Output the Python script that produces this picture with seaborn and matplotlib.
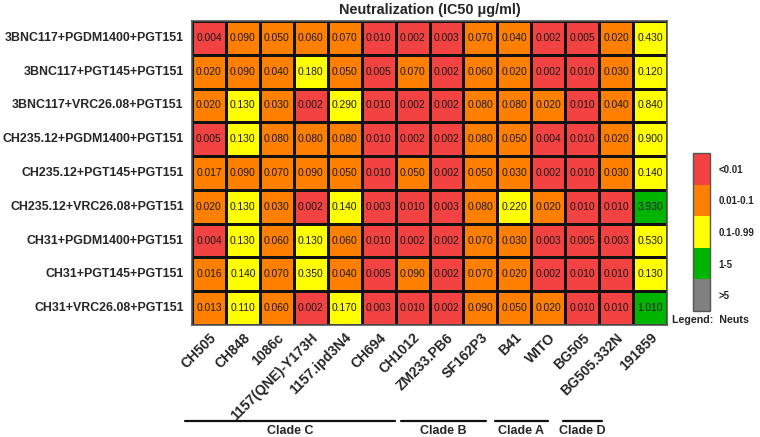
import numpy as np
import pandas as pd
import matplotlib
matplotlib.use("Agg")
import matplotlib.pyplot as plt
from matplotlib.colors import ListedColormap
import seaborn as sns

combos = ["3BNC117+PGDM1400+PGT151", "3BNC117+PGT145+PGT151", "3BNC117+VRC26.08+PGT151",
          "CH235.12+PGDM1400+PGT151", "CH235.12+PGT145+PGT151", "CH235.12+VRC26.08+PGT151",
          "CH31+PGDM1400+PGT151", "CH31+PGT145+PGT151", "CH31+VRC26.08+PGT151"]
viruses = ["CH505", "CH848", "1086c", "1157(QNE)-Y173H", "1157.ipd3N4", "CH694", "CH1012",
           "ZM233.PB6", "SF162P3", "B41", "WITO", "BG505", "BG505.332N", "191859"]

row1 = [0.004, 0.090, 0.050, 0.060, 0.070, 0.010, 0.002, 0.003, 0.070, 0.040, 0.002, 0.005, 0.020, 0.430]
row2 = [0.020, 0.090, 0.040, 0.180, 0.050, 0.005, 0.070, 0.002, 0.060, 0.020, 0.002, 0.010, 0.030, 0.120]
row3 = [0.020, 0.130, 0.030, 0.002, 0.290, 0.010, 0.002, 0.002, 0.080, 0.080, 0.020, 0.010, 0.040, 0.840]
row4 = [0.005, 0.130, 0.080, 0.080, 0.080, 0.010, 0.002, 0.002, 0.080, 0.050, 0.004, 0.010, 0.020, 0.900]
row5 = [0.017, 0.090, 0.070, 0.090, 0.050, 0.010, 0.050, 0.002, 0.050, 0.030, 0.002, 0.010, 0.030, 0.140]
row6 = [0.020, 0.130, 0.030, 0.002, 0.140, 0.003, 0.010, 0.003, 0.080, 0.220, 0.020, 0.010, 0.010, 3.930]
row7 = [0.004, 0.130, 0.060, 0.130, 0.060, 0.010, 0.002, 0.002, 0.070, 0.030, 0.003, 0.005, 0.003, 0.530]
row8 = [0.016, 0.140, 0.070, 0.350, 0.040, 0.005, 0.090, 0.002, 0.070, 0.020, 0.002, 0.010, 0.010, 0.130]
row9 = [0.013, 0.110, 0.060, 0.002, 0.170, 0.003, 0.010, 0.002, 0.090, 0.050, 0.020, 0.010, 0.010, 1.010]

legend_labels = ["<0.01", "0.01-0.1", "0.1-0.99", "1-5", ">5"]
bin_edges = [0.0105, 0.1005, 1.0, 5.0]
bin_colors = ["#F24242", "#FF8000", "#FFFF00", "#00B400", "#808080"]

clades = ["Clade C", "Clade B", "Clade A", "Clade D"]

values = np.array([row1, row2, row3, row4, row5, row6, row7, row8, row9])
df = pd.DataFrame(values, index=combos, columns=viruses)
cats = pd.DataFrame(np.digitize(values, bin_edges, right=False), index=combos, columns=viruses)
annot = df.map(lambda v: f"{v:.3f}")

sns.set_theme(style="white")
plt.rcParams["font.family"] = ["Liberation Sans", "DejaVu Sans"]

W, H = 760, 437
fig = plt.figure(figsize=(W / 100, H / 100), dpi=100)
ax = fig.add_axes([192 / W, 1 - 325 / H, 475 / W, 304 / H])
cax = fig.add_axes([693 / W, 1 - 311 / H, 17 / W, 158 / H])

cmap = ListedColormap(bin_colors)
sns.heatmap(cats, ax=ax, cmap=cmap, vmin=-0.5, vmax=4.5, annot=annot, fmt="",
            annot_kws={"fontsize": 7.4, "color": "#1a1a1a"},
            linewidths=1, linecolor="#111111", cbar=True, cbar_ax=cax)

for s in ax.spines.values():
    s.set_visible(True)
    s.set_color("#555555")
    s.set_linewidth(1.2)

ax.tick_params(axis="both", length=0)
ax.tick_params(axis="y", pad=6)
ax.tick_params(axis="x", pad=4)
ax.set_yticklabels(combos, rotation=0, fontsize=8.9, fontweight="bold")
ax.set_xticklabels(viruses, rotation=45, ha="right", rotation_mode="anchor",
                   fontsize=10, fontweight="bold")
ax.set_xlabel("")
ax.set_ylabel("")
ax.set_title("Neutralization (IC50 \u03bcg/ml)", fontsize=10.4, fontweight="bold", pad=5)

# colorbar
cbar = ax.collections[0].colorbar
cbar.set_ticks(range(len(legend_labels)))
cbar.set_ticklabels(legend_labels)
cax.invert_yaxis()
cax.tick_params(axis="y", direction="in", length=3, width=0.8, color="#333333",
                labelsize=7, pad=6)
for lab in cax.get_yticklabels():
    lab.set_fontweight("bold")
cbar.outline.set_edgecolor("#555555")
cbar.outline.set_linewidth(1)
fig.text(672 / W, 1 - 320 / H, "Legend:  Neuts", fontsize=7.7, fontweight="bold",
         ha="left", va="center")

# clade brackets
clade_spans = [(185, 395), (401, 486), (495, 548), (563, 602)]
for name, (x0, x1) in zip(clades, clade_spans):
    y = 1 - 421 / H
    fig.add_artist(plt.Line2D([x0 / W, x1 / W], [y, y], color="#111111", lw=1.6))
    fig.text((x0 + x1) / 2 / W, 1 - 431 / H, name, ha="center", va="center",
             fontsize=9, fontweight="bold")

fig.savefig("out.png", dpi=100)
